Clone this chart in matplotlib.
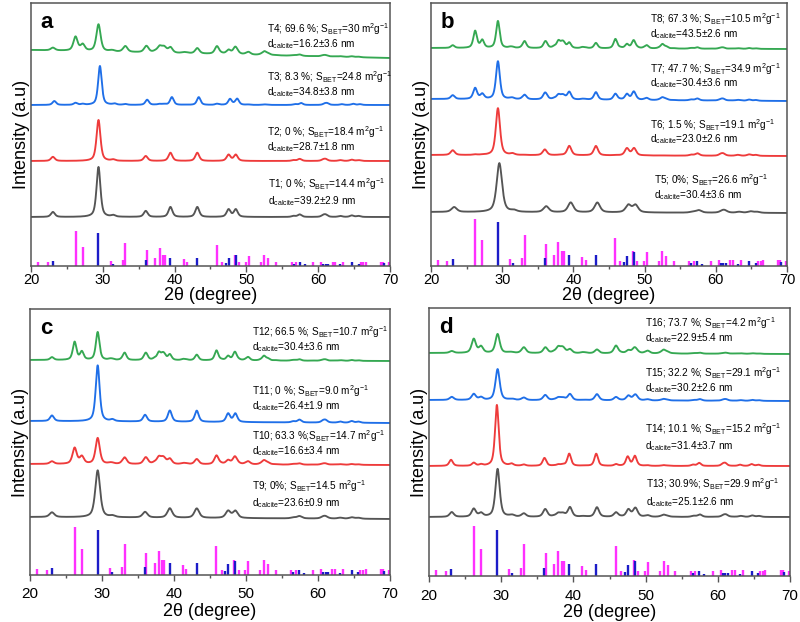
#XRD patterns of the T1-T16 samples with aragonite / calcite reference sticks
import matplotlib.pyplot as plt
import numpy as np

plt.rcParams['font.family'] = ['Liberation Sans', 'DejaVu Sans']
plt.rcParams['mathtext.default'] = 'regular'

# reference sticks (2theta, relative intensity) and the relative peak profile seen in the scans
CALCITE_PEAKS = [23.05, 29.40, 31.45, 35.98, 39.42, 43.16, 47.12, 47.52, 48.52, 56.57, 57.42,
                 58.10, 60.70, 61.05, 61.40, 63.08, 64.68, 65.62, 69.20]
CALCITE_STICKS = [14, 93, 7, 17, 24, 24, 8, 22, 30, 6, 11, 5, 6, 6, 6, 5, 10, 6, 8]
CALCITE_PROFILE = [10, 100, 3, 12, 20, 20, 0, 15, 15, 2, 5, 0, 3, 4, 0, 2, 3, 2, 0]

ARAGONITE_PEAKS = [21.0, 22.3, 26.2, 27.2, 31.1, 32.8, 33.15, 36.15, 37.3, 37.9, 38.4, 38.65,
                   41.25, 41.7, 45.9, 46.6, 48.4, 49.0, 49.9, 50.3, 52.0, 52.5, 53.05, 54.1,
                   56.3, 56.9, 59.3, 60.4, 62.0, 62.4, 63.5, 65.9, 66.3, 66.6, 68.8, 69.0, 69.8]
ARAGONITE_STICKS = [12, 10, 100, 55, 15, 17, 65, 46, 24, 50, 31, 31, 20, 12, 60, 10, 32, 10,
                    11, 29, 11, 31, 22, 10, 10, 10, 11, 12, 12, 12, 12, 10, 10, 12, 12, 12, 10]
ARAGONITE_PROFILE = [0, 0, 100, 45, 5, 3, 40, 25, 8, 40, 22, 22, 6, 4, 55, 3, 25, 3, 3, 18,
                     3, 25, 10, 2, 1, 1, 1, 1, 1, 1, 1, 0, 0, 0, 0, 0, 0]

# per sample: height of calcite 104 peak, height of aragonite 111 peak, FWHM, peak shift, background drop
SAMPLES_A = ['T1', 'T2', 'T3', 'T4']
CALC_A = [50, 41, 39, 27]
ARAG_A = [0, 0, 2, 14]
FWHM_A = [0.65, 0.65, 0.6, 0.7]
SHIFT_A = [0.0, 0.0, 0.2, 0.0]
DROP_A = [0, 0, 0, 8]
LINE1_A = ['T1; 0 %; S$_{BET}$=14.4 m$^2$g$^{-1}$', 'T2; 0 %; S$_{BET}$=18.4 m$^2$g$^{-1}$',
           'T3; 8.3 %; S$_{BET}$=24.8 m$^2$g$^{-1}$', 'T4; 69.6 %; S$_{BET}$=30 m$^2$g$^{-1}$']
DCAL_A = ['39.2±2.9', '28.7±1.8', '34.8±3.8', '16.2±3.6']

SAMPLES_B = ['T5', 'T6', 'T7', 'T8']
CALC_B = [49, 47, 38, 27]
ARAG_B = [0, 0.5, 11, 17]
FWHM_B = [0.9, 0.7, 0.65, 0.6]
SHIFT_B = [0.2, 0.0, 0.0, 0.0]
DROP_B = [1, 1, 2, 1]
LINE1_B = ['T5; 0%; S$_{BET}$=26.6 m$^2$g$^{-1}$', 'T6; 1.5 %; S$_{BET}$=19.1 m$^2$g$^{-1}$',
           'T7; 47.7 %; S$_{BET}$=34.9 m$^2$g$^{-1}$', 'T8; 67.3 %; S$_{BET}$=10.5 m$^2$g$^{-1}$']
DCAL_B = ['30.4±3.6', '23.0±2.6', '30.4±3.6', '43.5±2.6']

SAMPLES_C = ['T9', 'T10', 'T11', 'T12']
CALC_C = [47, 26, 56, 28]
ARAG_C = [0, 16, 0, 18]
FWHM_C = [0.8, 0.7, 0.65, 0.6]
SHIFT_C = [0.0, 0.0, 0.0, 0.0]
DROP_C = [2, 1, 2, 1]
LINE1_C = ['T9; 0%; S$_{BET}$=14.5 m$^2$g$^{-1}$', 'T10; 63.3 %;S$_{BET}$=14.7 m$^2$g$^{-1}$',
           'T11; 0 %; S$_{BET}$=9.0 m$^2$g$^{-1}$', 'T12; 66.5 %; S$_{BET}$=10.7 m$^2$g$^{-1}$']
DCAL_C = ['23.6±0.9', '16.6±3.4', '26.4±1.9', '30.4±3.6']

SAMPLES_D = ['T13', 'T14', 'T15', 'T16']
CALC_D = [48, 61, 31, 19]
ARAG_D = [8, 3, 6, 14]
FWHM_D = [0.7, 0.6, 0.7, 0.7]
SHIFT_D = [0.1, 0.0, 0.1, 0.1]
DROP_D = [0, 0, 1, 1]
LINE1_D = ['T13; 30.9%; S$_{BET}$=29.9 m$^2$g$^{-1}$', 'T14; 10.1 %; S$_{BET}$=15.2 m$^2$g$^{-1}$',
           'T15; 32.2 %; S$_{BET}$=29.1 m$^2$g$^{-1}$', 'T16; 73.7 %; S$_{BET}$=4.2 m$^2$g$^{-1}$']
DCAL_D = ['25.1±2.6', '31.4±3.7', '30.2±2.6', '22.9±5.4']

COLORS = ['#555555', '#ee3b3b', '#1f6fe8', '#35a852']
MAGENTA = '#ff30ff'
NAVY = '#1c1cc8'

tt = np.linspace(20, 70, 2501)


def peak(x, x0, fwhm, eta=0.6):
    g = np.exp(-4 * np.log(2) * (x - x0) ** 2 / fwhm ** 2)
    l = 1 / (1 + 4 * (x - x0) ** 2 / fwhm ** 2)
    return eta * l + (1 - eta) * g


def pattern(calc_h, arag_h, fwhm, shift):
    y = np.zeros_like(tt)
    for p, rel in zip(CALCITE_PEAKS, CALCITE_PROFILE):
        if rel:
            y += calc_h * rel / 100 * peak(tt, p + shift, fwhm)
    for p, rel in zip(ARAGONITE_PEAKS, ARAGONITE_PROFILE):
        if rel and arag_h:
            y += arag_h * rel / 100 * peak(tt, p, fwhm)
    return y


fig = plt.figure(figsize=(8, 6.22), dpi=100)

# (axes rect, axes height in px, stick scale, baselines, text x, text y line1, text y line2, letter, tight)
panels = [
    ([31/800, 356/622, 359/800, 263/622], 263, 0.35, [49, 105, 161, 216],
     [53.0, 52.8, 52.8, 52.8], [82, 134, 189, 237], [65, 119, 174, 222], 'a', True,
     CALC_A, ARAG_A, FWHM_A, SHIFT_A, DROP_A, LINE1_A, DCAL_A),
    ([431/800, 356/622, 356/800, 263/622], 263, 0.47, [54, 111, 167, 218],
     [51.3, 50.8, 50.8, 50.8], [86, 141, 197, 247], [71, 127, 183, 232], 'b', True,
     CALC_B, ARAG_B, FWHM_B, SHIFT_B, DROP_B, LINE1_B, DCAL_B),
    ([30/800, 47/622, 360/800, 266/622], 266, 0.48, [58, 111, 154, 215],
     [50.8, 50.8, 50.8, 50.8], [89, 139, 184, 243], [72, 124, 169, 228], 'c', False,
     CALC_C, ARAG_C, FWHM_C, SHIFT_C, DROP_C, LINE1_C, DCAL_C),
    ([429/800, 46/622, 361/800, 268/622], 268, 0.50, [59, 110, 176, 223],
     [50.1, 49.9, 49.9, 49.9], [92, 147, 203, 253], [74, 130, 188, 238], 'd', False,
     CALC_D, ARAG_D, FWHM_D, SHIFT_D, DROP_D, LINE1_D, DCAL_D),
]

for (rect, h, sscale, base, tx, ty1, ty2, letter, tight,
     calc, arag, fwhm, shift, drop, line1, dcal) in panels:
    ax = fig.add_axes(rect)
    ax.vlines(ARAGONITE_PEAKS, 0, np.array(ARAGONITE_STICKS) * sscale, color=MAGENTA, lw=1.7)
    ax.vlines(CALCITE_PEAKS, 0, np.array(CALCITE_STICKS) * sscale, color=NAVY, lw=1.7)
    for i in range(4):
        bg = base[i] - drop[i] * (tt - 20) / 50
        ax.plot(tt, bg + pattern(calc[i], arag[i], fwhm[i], shift[i]), color=COLORS[i], lw=1.35)
        ax.text(tx[i], ty1[i], line1[i], fontsize=7.2, va='center')
        ax.text(tx[i], ty2[i], 'd$_{calcite}$=' + dcal[i] + ' nm', fontsize=7.2, va='center')
    ax.text(0.027, 0.965, letter, transform=ax.transAxes, fontsize=16, fontweight='bold',
            va='top', ha='left')
    ax.set_xlim(20, 70)
    ax.set_ylim(0, h)
    ax.set_yticks([])
    ax.set_xticks([20, 30, 40, 50, 60, 70])
    ax.set_xticks([25, 35, 45, 55, 65], minor=True)
    ax.tick_params(axis='x', which='major', length=4, width=1,
                   labelsize=10.5 if tight else 11,
                   pad=1 if tight else 5, color='#555555')
    ax.tick_params(axis='x', which='minor', length=2.5, width=1, color='#555555')
    ax.set_xlabel('2θ (degree)', fontsize=13, labelpad=0 if tight else 1)
    ax.set_ylabel('Intensity (a.u)', fontsize=13, labelpad=1)
    for sp in ax.spines.values():
        sp.set_color('#555555')
        sp.set_linewidth(1.1)

fig.savefig('out.png', dpi=100)
